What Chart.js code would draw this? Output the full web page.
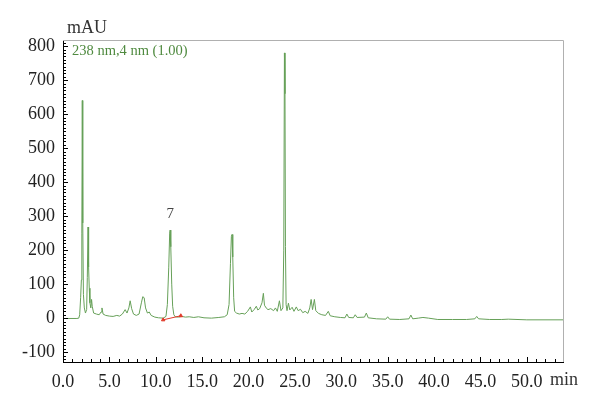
<!DOCTYPE html>
<html>
<head>
<meta charset="utf-8">
<script src="https://cdn.jsdelivr.net/npm/chart.js@4.4.0/dist/chart.umd.min.js"></script>
<style>
  body { margin: 0; background: #fff; }
  #wrap { width: 600px; height: 404px; }
</style>
</head>
<body>
<div id="wrap"><canvas id="myChart" width="600" height="404"></canvas></div>
<script>
// chromatogram, 238 nm
var times = [0.0, 1.5, 1.7, 1.8, 1.9, 1.98, 2.03, 2.08, 2.13, 2.2, 2.3, 2.42, 2.55, 2.62, 2.7, 2.76, 2.83, 2.9, 3.0, 3.08,
  3.15, 3.3, 3.6, 3.9, 4.1, 4.2, 4.32, 4.6, 5.0, 5.4, 5.8, 6.1, 6.4, 6.7, 6.9, 7.1, 7.24, 7.4, 7.6, 7.9,
  8.2, 8.45, 8.6, 8.75, 8.9, 9.1, 9.3, 9.5, 9.9, 10.3, 10.8, 11.1, 11.25, 11.4, 11.5, 11.55, 11.62, 11.72, 11.82, 11.95,
  12.1, 12.4, 12.8, 13.2, 13.6, 14.1, 14.6, 15.2, 16.0, 16.8, 17.4, 17.7, 17.9, 18.05, 18.15, 18.22, 18.3, 18.4, 18.5, 18.7,
  19.0, 19.3, 19.6, 19.9, 20.2, 20.35, 20.6, 20.84, 21.0, 21.2, 21.45, 21.6, 21.72, 21.9, 22.1, 22.4, 22.7, 22.9, 23.1, 23.33,
  23.5, 23.7, 23.8, 23.87, 23.93, 23.98, 24.05, 24.15, 24.3, 24.45, 24.7, 24.9, 25.15, 25.35, 25.6, 25.85, 26.1, 26.4, 26.6, 26.75,
  26.9, 27.1, 27.25, 27.54, 27.9, 28.3, 28.6, 28.8, 29.3, 29.9, 30.4, 30.6, 30.8, 31.3, 31.5, 31.7, 32.5, 32.7, 32.9, 33.8,
  34.8, 35.0, 35.2, 36.3, 37.3, 37.5, 37.7, 38.3, 38.8, 39.4, 40.4, 42.0, 43.5, 44.4, 44.6, 44.8, 46.0, 47.3, 48.0, 50.0, 54.0];
var signal = [-1, -1, 0, 10, 60, 112, 250, 640, 280, 70, 30, 15, 25, 120, 268, 150, 88, 45, 30, 55,
  35, 15, 12, 10, 18, 30, 12, 8, 6, 5, 8, 6, 12, 25, 15, 30, 51, 28, 12, 8,
  12, 45, 63, 60, 30, 15, 18, 8, 3, 1, 0, 5, 40, 150, 250, 259, 210, 100, 35, 10,
  4, 3, 5, 3, 4, 2, 4, 1, 0, 2, 4, 10, 40, 160, 240, 246, 180, 60, 20, 15,
  12, 14, 12, 20, 33, 18, 25, 35, 24, 28, 45, 73, 38, 30, 25, 28, 22, 30, 20, 51,
  22, 30, 200, 780, 660, 210, 40, 22, 44, 24, 32, 20, 33, 22, 26, 16, 20, 14, 30, 55,
  25, 55, 22, 14, 10, 8, 20, 7, 4, 2, 1, 12, 2, 1, 10, 2, 3, 15, 1, -2,
  -3, 4, -3, -4, -2, 9, -2, 0, 2, 0, -4, -4, -4, -2, 5, -2, -4, -4, -3, -5, -5];

// integration baseline of peak 7
var baseTimes = [10.8, 12.7];
var baseValues = [-5, 7];

var peakLabel = '7';
var peakTime = 11.55;
var peakValue = 259;

var xTicks = [0, 5, 10, 15, 20, 25, 30, 35, 40, 45, 50];
var yTicks = [-100, 0, 100, 200, 300, 400, 500, 600, 700, 800];

var trace = [];
for (var i in times) {
    trace.push({x: times[i], y: signal[i]});
}
var baseline = [];
for (var j in baseTimes) {
    baseline.push({x: baseTimes[j], y: baseValues[j]});
}

var serif = "'Liberation Serif', 'DejaVu Serif', serif";

var decor = {
    id: 'decor',
    afterDraw: function(chart) {
        var ctx = chart.ctx;
        var a = chart.chartArea;
        var xs = chart.scales.x;
        var ys = chart.scales.y;
        ctx.save();
        // top and right frame
        ctx.strokeStyle = '#b0b0b0';
        ctx.lineWidth = 1;
        ctx.beginPath();
        ctx.moveTo(a.left, a.top + 0.5);
        ctx.lineTo(a.right + 0.5, a.top + 0.5);
        ctx.lineTo(a.right + 0.5, a.bottom);
        ctx.stroke();
        // inward ticks
        ctx.strokeStyle = '#000';
        ctx.beginPath();
        for (var v = -120; v <= 810; v += 10) {
            var py = Math.round(ys.getPixelForValue(v)) + 0.5;
            var len = (v % 100 === 0) ? 5 : 3;
            ctx.moveTo(a.left, py);
            ctx.lineTo(a.left + len, py);
        }
        for (var t = 0; t <= 53; t += 1) {
            var px = Math.round(xs.getPixelForValue(t)) + 0.5;
            var l2 = (t % 5 === 0) ? 5 : 3;
            ctx.moveTo(px, a.bottom);
            ctx.lineTo(px, a.bottom - l2);
        }
        ctx.stroke();
        // texts
        ctx.fillStyle = '#333';
        ctx.font = '18px ' + serif;
        ctx.textBaseline = 'alphabetic';
        ctx.textAlign = 'left';
        ctx.fillText('mAU', 67, 33);
        ctx.textBaseline = 'middle';
        ctx.fillText('min', 550, 380);
        ctx.fillStyle = '#4f8a3f';
        ctx.font = '14.5px ' + serif;
        ctx.textBaseline = 'alphabetic';
        ctx.fillText('238 nm,4 nm (1.00)', 72, 55);
        ctx.fillStyle = '#444';
        ctx.font = '15px ' + serif;
        ctx.textAlign = 'center';
        ctx.fillText(peakLabel, xs.getPixelForValue(peakTime), ys.getPixelForValue(peakValue) - 12);
        ctx.restore();
    }
};

var chartdata = {
    datasets: [
        {
            label: 'baseline',
            data: baseline,
            borderColor: '#e03a2a',
            backgroundColor: '#e03a2a',
            borderWidth: 1,
            pointRadius: 2,
            pointStyle: 'triangle'
        },
        {
            label: '238 nm',
            data: trace,
            borderColor: '#66a058',
            borderWidth: 1,
            pointRadius: 0,
            tension: 0
        }
    ]
};

var options = {
    responsive: false,
    animation: false,
    layout: { padding: { top: 40, right: 37, left: 0, bottom: 0 } },
    plugins: { legend: { display: false }, tooltip: { enabled: false } },
    scales: {
        x: {
            type: 'linear',
            min: 0,
            max: 53.9,
            grid: { display: false },
            border: { display: true, color: '#000', width: 1 },
            afterBuildTicks: function(scale) {
                scale.ticks = xTicks.map(function(v) { return {value: v}; });
            },
            afterFit: function(scale) { scale.height = 42; },
            ticks: {
                maxRotation: 0,
                autoSkip: false,
                padding: 1,
                color: '#222',
                font: { family: serif, size: 18 },
                callback: function(v) { return v.toFixed(1); }
            }
        },
        y: {
            min: -129,
            max: 818,
            grid: { display: false },
            border: { display: true, color: '#000', width: 1 },
            afterBuildTicks: function(scale) {
                scale.ticks = yTicks.map(function(v) { return {value: v}; });
            },
            afterFit: function(scale) { scale.width = 63; },
            ticks: {
                autoSkip: false,
                padding: 0,
                color: '#222',
                font: { family: serif, size: 18 }
            }
        }
    }
};

var ctx = document.getElementById('myChart');
var chart = new Chart(ctx, {
    type: 'line',
    data: chartdata,
    options: options,
    plugins: [decor]
});
</script>
</body>
</html>
